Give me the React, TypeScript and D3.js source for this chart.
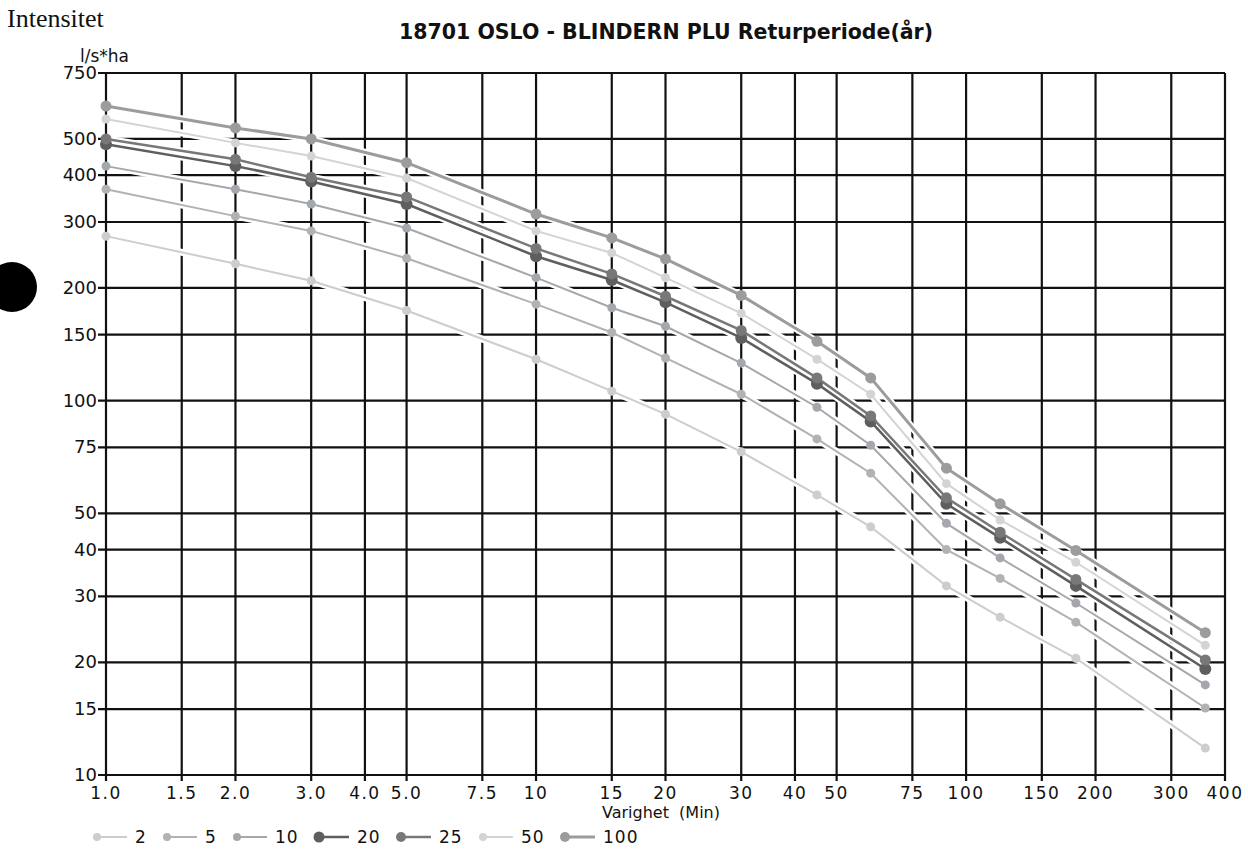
import React from 'react';
import * as d3 from 'd3';

// durations in minutes
const durations = [1, 2, 3, 5, 10, 15, 20, 30, 45, 60, 90, 120, 180, 360];

// intensity (l/s*ha) per return period
const r2 = [275, 232, 209, 174, 129, 106, 92, 73, 56, 46, 32, 26.4, 20.5, 11.8];
const r5 = [367, 311, 284, 240, 181, 152, 130, 104, 79, 64, 40, 33.5, 25.6, 15.1];
const r10 = [423, 367, 335, 289, 213, 177, 158, 126, 96, 76, 47, 38, 28.8, 17.4];
const r20 = [484, 423, 385, 335, 243, 210, 183, 147, 111, 88, 53, 43, 32, 19.2];
const r25 = [500, 441, 395, 350, 255, 218, 190, 154, 115, 91, 55, 44.5, 33.3, 20.3];
const r50 = [565, 488, 450, 393, 284, 248, 213, 171, 129, 104, 60, 48, 37, 22.2];
const r100 = [612, 535, 500, 432, 315, 272, 239, 191, 144, 115, 66, 53, 39.8, 24];

const xTicks = [1, 1.5, 2, 3, 4, 5, 7.5, 10, 15, 20, 30, 40, 50, 75, 100, 150, 200, 300, 400];
const xTickLabels = ['1.0', '1.5', '2.0', '3.0', '4.0', '5.0', '7.5', '10', '15', '20', '30', '40', '50', '75', '100', '150', '200', '300', '400'];
const yTicks = [10, 15, 20, 30, 40, 50, 75, 100, 150, 200, 300, 400, 500, 750];

const series = [
  { name: '2', values: r2, color: '#cdcdcd', width: 2, r: 4.5 },
  { name: '5', values: r5, color: '#b2b2b2', width: 2, r: 4.5 },
  { name: '10', values: r10, color: '#a4a8ad', width: 2, r: 4.5 },
  { name: '20', values: r20, color: '#5e5e5e', width: 2.5, r: 6 },
  { name: '25', values: r25, color: '#787878', width: 2.5, r: 5.5 },
  { name: '50', values: r50, color: '#d4d4d4', width: 2, r: 4.5 },
  { name: '100', values: r100, color: '#9c9c9c', width: 3, r: 5.5 },
];

const W = 1248;
const H = 851;
const FONT = 'DejaVu Sans, sans-serif';

export default function App() {
  const x = d3.scaleLog().domain([1, 400]).range([106, 1225]);
  const y = d3.scaleLog().domain([10, 750]).range([775, 73]);
  const line = d3.line<number>()
    .x((_, i) => x(durations[i]))
    .y(d => y(d));

  // legend layout
  let lx = 97;
  const legend = series.map(s => {
    const item = { ...s, x: lx };
    lx += 58 + 12 * s.name.length;
    return item;
  });

  return (
    <svg width={W} height={H} style={{ position: 'absolute', left: 0, top: 0, background: '#fff' }}>
      <rect width={W} height={H} fill="#fff" />
      <circle cx={12} cy={287} r={25} fill="#000" />

      <text x={7} y={27} fontFamily="Liberation Serif, serif" fontSize={26} fill="#111">Intensitet</text>
      <text x={666} y={39} textAnchor="middle" fontFamily={FONT} fontWeight="bold" fontSize={20.5} fill="#111">
        18701 OSLO - BLINDERN PLU Returperiode(år)
      </text>
      <text x={80} y={62} fontFamily={FONT} fontSize={17} fill="#111">l/s*ha</text>

      {/* grid */}
      <g stroke="#111" strokeWidth={2.2}>
        {xTicks.map(t => (
          <line key={'gx' + t} x1={x(t)} x2={x(t)} y1={73} y2={781} />
        ))}
        {yTicks.map(t => (
          <line key={'gy' + t} x1={98} x2={1225} y1={y(t)} y2={y(t)} />
        ))}
      </g>

      {/* y tick labels */}
      <g fontFamily={FONT} fontSize={18} fill="#111" textAnchor="end">
        {yTicks.map(t => (
          <text key={'yl' + t} x={97} y={y(t) + 6}>{t}</text>
        ))}
      </g>

      {/* x tick labels */}
      <g fontFamily={FONT} fontSize={17} fill="#111" textAnchor="middle" letterSpacing={1.5}>
        {xTicks.map((t, i) => (
          <text key={'xl' + t} x={x(t)} y={799}>{xTickLabels[i]}</text>
        ))}
      </g>
      <text x={661} y={818} textAnchor="middle" fontFamily={FONT} fontSize={16} fill="#111" style={{ whiteSpace: 'pre' }}>
        {'Varighet  (Min)'}
      </text>

      {/* white halos cutting the grid */}
      <g fill="none" stroke="#fff" strokeWidth={7}>
        {series.map(s => (
          <path key={'h' + s.name} d={line(s.values) || ''} />
        ))}
      </g>

      {/* series */}
      {series.map(s => (
        <g key={s.name}>
          <path d={line(s.values) || ''} fill="none" stroke={s.color} strokeWidth={s.width} />
          {s.values.map((v, i) => (
            <circle key={i} cx={x(durations[i])} cy={y(v)} r={s.r} fill={s.color} />
          ))}
        </g>
      ))}

      {/* legend */}
      <g fontFamily={FONT} fontSize={17} fill="#111" letterSpacing={1}>
        {legend.map(s => (
          <g key={'lg' + s.name}>
            <line x1={s.x} x2={s.x + 30} y1={837} y2={837} stroke={s.color} strokeWidth={s.width} />
            <circle cx={s.x} cy={837} r={s.r - 0.5} fill={s.color} />
            <text x={s.x + 38} y={843}>{s.name}</text>
          </g>
        ))}
      </g>
    </svg>
  );
}
